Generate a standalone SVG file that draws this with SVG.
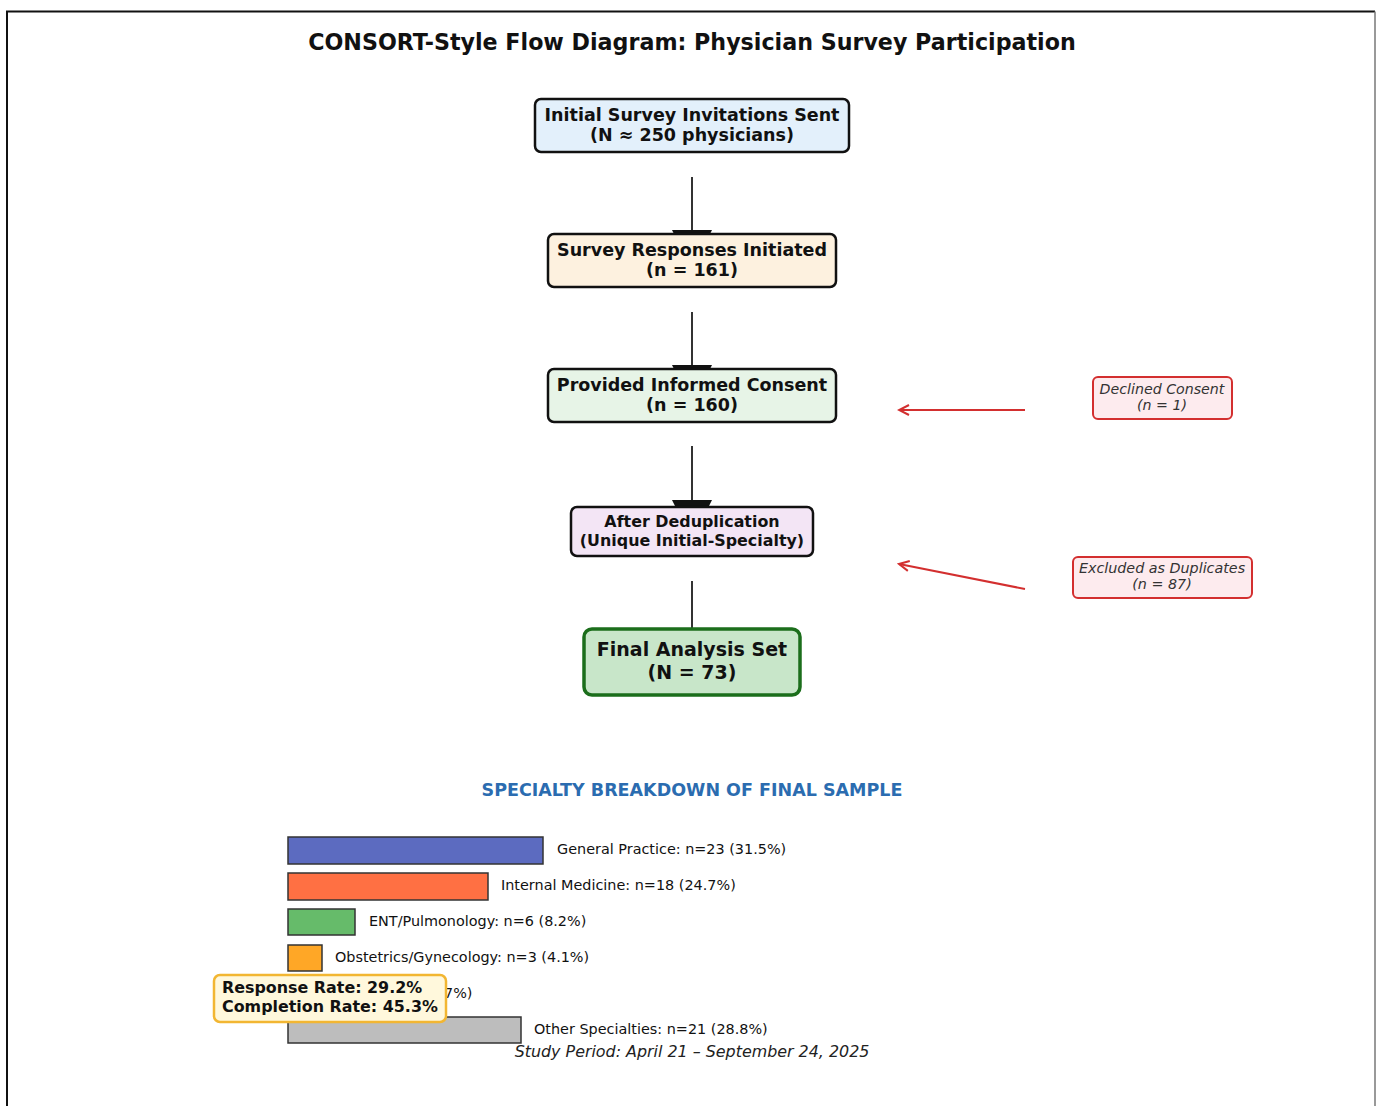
<svg xmlns="http://www.w3.org/2000/svg" width="1376" height="1106" viewBox="0 0 1376 1106">
<defs>
<style>
.t{font-family:"DejaVu Sans","Liberation Sans",sans-serif;fill:#111;}
.b{font-weight:bold;}
.c{text-anchor:middle;}
.it{font-style:italic;fill:#333;}
.box{stroke:#111;stroke-width:2.5;}
.red{fill:#fdebee;stroke:#d32f2f;stroke-width:2;}
.flow{stroke:#333;stroke-width:2;fill:none;}
.rl{stroke:#d32f2f;stroke-width:2;fill:none;}
.bar{stroke:#333;stroke-width:1.5;}
.lab{font-size:14.4px;}
</style>
<marker id="head" markerUnits="userSpaceOnUse" markerWidth="44" markerHeight="44" refX="0" refY="20" orient="auto" viewBox="0 0 44 40">
<path d="M0,0 L40,20 L0,40 Z" fill="#111"/>
</marker>
<marker id="rhead" markerUnits="userSpaceOnUse" markerWidth="13" markerHeight="13" refX="11" refY="6.5" orient="auto" viewBox="0 0 13 13">
<path d="M1,1.5 L11,6.5 L1,11.5" fill="none" stroke="#d32f2f" stroke-width="2"/>
</marker>
</defs>
<rect width="1376" height="1106" fill="#fff"/>
<path d="M7,1106 V11.5 H1375" fill="none" stroke="#111" stroke-width="2"/>
<path d="M1375,11.5 V1106" fill="none" stroke="#777" stroke-width="1.5"/>

<text class="t b c" x="692" y="50" font-size="22.2">CONSORT-Style Flow Diagram: Physician Survey Participation</text>

<g id="connectors">
<line class="flow" x1="692" y1="177" x2="692" y2="230" marker-end="url(#head)"/>
<line class="flow" x1="692" y1="312" x2="692" y2="365" marker-end="url(#head)"/>
<line class="flow" x1="692" y1="446" x2="692" y2="500" marker-end="url(#head)"/>
<line class="flow" x1="692" y1="581" x2="692" y2="632" marker-end="url(#head)"/>
<line class="rl" x1="1025" y1="410" x2="899" y2="410" marker-end="url(#rhead)"/>
<line class="rl" x1="1025" y1="589" x2="899" y2="564" marker-end="url(#rhead)"/>
</g>

<g id="n-invitations">
<rect class="box" x="535" y="99" width="314" height="53" rx="6" fill="#e3f0fb"/>
<text class="t b c" x="692" y="121" font-size="17.5">Initial Survey Invitations Sent</text>
<text class="t b c" x="692" y="141" font-size="17.5">(N ≈ 250 physicians)</text>
</g>
<g id="n-initiated">
<rect class="box" x="548" y="234" width="288" height="53" rx="6" fill="#fdf1df"/>
<text class="t b c" x="692" y="256" font-size="17.5">Survey Responses Initiated</text>
<text class="t b c" x="692" y="276" font-size="17.5">(n = 161)</text>
</g>
<g id="n-consent">
<rect class="box" x="548" y="369" width="288" height="53" rx="6" fill="#e7f4e7"/>
<text class="t b c" x="692" y="391" font-size="17.5">Provided Informed Consent</text>
<text class="t b c" x="692" y="411" font-size="17.5">(n = 160)</text>
</g>
<g id="n-dedup">
<rect class="box" x="571" y="507" width="242" height="49" rx="6" fill="#f3e5f5"/>
<text class="t b c" x="692" y="527" font-size="15.9">After Deduplication</text>
<text class="t b c" x="692" y="546" font-size="15.9">(Unique Initial-Specialty)</text>
</g>
<g id="n-final">
<rect x="584" y="629" width="216" height="66" rx="8" fill="#c8e6c9" stroke="#1b6e1b" stroke-width="3.5"/>
<text class="t b c" x="692" y="656" font-size="19">Final Analysis Set</text>
<text class="t b c" x="692" y="679" font-size="19">(N = 73)</text>
</g>
<g id="n-declined">
<rect class="red" x="1093" y="377" width="139" height="42" rx="5"/>
<text class="t it c" x="1162" y="394" font-size="14.2">Declined Consent</text>
<text class="t it c" x="1162" y="410" font-size="14.2">(n = 1)</text>
</g>
<g id="n-duplicates">
<rect class="red" x="1073" y="557" width="179" height="41" rx="5"/>
<text class="t it c" x="1162" y="573" font-size="14.3">Excluded as Duplicates</text>
<text class="t it c" x="1162" y="589" font-size="14.3">(n = 87)</text>
</g>

<g id="breakdown">
<text class="t b c" x="692" y="796" font-size="17.5" style="fill:#2b6cb0">SPECIALTY BREAKDOWN OF FINAL SAMPLE</text>
<rect class="bar" x="288" y="837" width="255" height="27" fill="#5c6bc0"/>
<text class="t lab" x="557" y="854">General Practice: n=23 (31.5%)</text>
<rect class="bar" x="288" y="873" width="200" height="27" fill="#ff7043"/>
<text class="t lab" x="501" y="890">Internal Medicine: n=18 (24.7%)</text>
<rect class="bar" x="288" y="909" width="67" height="26" fill="#66bb6a"/>
<text class="t lab" x="369" y="926">ENT/Pulmonology: n=6 (8.2%)</text>
<rect class="bar" x="288" y="945" width="34" height="26" fill="#ffa726"/>
<text class="t lab" x="335" y="962">Obstetrics/Gynecology: n=3 (4.1%)</text>
<text class="t lab" x="444" y="998">7%)</text>
<rect class="bar" x="288" y="1017" width="233" height="26" fill="#bdbdbd"/>
<text class="t lab" x="534" y="1034">Other Specialties: n=21 (28.8%)</text>
<text class="t it c" x="692" y="1057" font-size="15.9" style="fill:#222">Study Period: April 21 – September 24, 2025</text>
</g>

<g id="n-rates">
<rect x="214" y="975" width="232" height="47" rx="6" fill="#fff8dc" stroke="#f2b632" stroke-width="2.5"/>
<text class="t b" x="222" y="993" font-size="15.9">Response Rate: 29.2%</text>
<text class="t b" x="222" y="1012" font-size="15.9">Completion Rate: 45.3%</text>
</g>
</svg>
